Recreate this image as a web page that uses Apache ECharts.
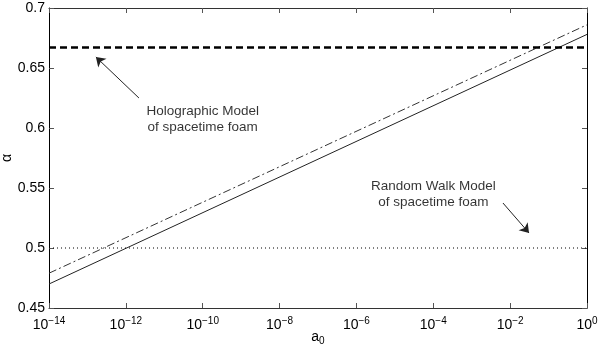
<!DOCTYPE html>
<html>
<head>
<meta charset="utf-8">
<script src="https://cdn.jsdelivr.net/npm/echarts@6/dist/echarts.min.js"></script>
<style>
  html, body { margin: 0; padding: 0; background: #fff; }
  #chart { width: 600px; height: 348px; }
</style>
</head>
<body>
<div id="chart"></div>
<script>
// a0 range and model curves
var xRange = [1e-14, 1];
var solidAlpha = [0.470, 0.678];
var dashDotAlpha = [0.479, 0.686];
var holographicAlpha = 0.667;
var randomWalkAlpha = 0.5;

// annotation texts, anchors [a0, alpha] and arrows [[tail], [head]]
var noteTexts = ['Holographic Model\nof spacetime foam', 'Random Walk Model\nof spacetime foam'];
var noteAnchors = [[1e-10, 0.6075], [1e-4, 0.545]];
var noteArrows = [
    [[2.19e-12, 0.625], [1.66e-13, 0.6592]],
    [[6.5e-3, 0.5375], [0.031, 0.5125]]
];

var yTicks = [0.45, 0.7, 0.05];

function pairUp(ys) {
    return [[xRange[0], ys[0]], [xRange[1], ys[1]]];
}

var chart = echarts.init(document.getElementById('chart'));
var font = 'Liberation Sans, Arial, Helvetica, sans-serif';

var tickStyle = { show: true, inside: true, length: 5, lineStyle: { color: '#555', width: 1 } };

var option = {
    animation: false,
    textStyle: { fontFamily: font },
    grid: { left: 49, right: 13, top: 8, bottom: 40, containLabel: false, outerBoundsMode: 'none' },
    xAxis: [{
        type: 'log',
        logBase: 10,
        min: xRange[0],
        max: xRange[1],
        splitNumber: 7,
        interval: 2,
        name: 'a{s|0}',
        nameLocation: 'middle',
        nameGap: 20,
        nameMoveOverlap: false,
        nameTextStyle: {
            color: '#000', fontSize: 14, fontFamily: font,
            rich: { s: { fontSize: 10, padding: [8, 0, 0, 0], fontFamily: font, color: '#000' } }
        },
        axisLine: { lineStyle: { color: '#333', width: 1 } },
        axisTick: tickStyle,
        minorTick: { show: false },
        splitLine: { show: false },
        axisLabel: {
            margin: 8,
            color: '#000',
            formatter: function (v) {
                var e = Math.round(Math.log10(v));
                return '{b|10}{s|' + (e < 0 ? '\u2212' + (-e) : e) + '}';
            },
            rich: {
                b: { fontSize: 14, fontFamily: font, color: '#000' },
                s: { fontSize: 10, fontFamily: font, color: '#000', padding: [0, 0, 9, 0] }
            }
        }
    }, {
        type: 'log',
        logBase: 10,
        min: xRange[0],
        max: xRange[1],
        splitNumber: 7,
        interval: 2,
        position: 'top',
        axisLine: { lineStyle: { color: '#333', width: 1 } },
        axisTick: tickStyle,
        minorTick: { show: false },
        axisLabel: { show: false },
        splitLine: { show: false }
    }],
    yAxis: [{
        type: 'value',
        min: yTicks[0],
        max: yTicks[1],
        interval: yTicks[2],
        name: '\u03b1',
        nameLocation: 'middle',
        nameGap: 35,
        nameMoveOverlap: false,
        nameTextStyle: { color: '#000', fontSize: 14, fontFamily: font },
        axisLine: { show: true, lineStyle: { color: '#000', width: 1 } },
        axisTick: tickStyle,
        splitLine: { show: false },
        axisLabel: {
            margin: 4,
            color: '#000',
            fontSize: 14,
            formatter: function (v) { return String(Math.round(v * 100) / 100); }
        }
    }, {
        type: 'value',
        min: yTicks[0],
        max: yTicks[1],
        interval: yTicks[2],
        position: 'right',
        axisLine: { show: true, lineStyle: { color: '#000', width: 1 } },
        axisTick: tickStyle,
        splitLine: { show: false },
        axisLabel: { show: false }
    }],
    series: [{
        type: 'line',
        data: pairUp(solidAlpha),
        symbol: 'none',
        lineStyle: { color: '#222', width: 1 }
    }, {
        type: 'line',
        data: pairUp(dashDotAlpha),
        symbol: 'none',
        lineStyle: { color: '#333', width: 1, type: [8, 3, 2, 3] }
    }, {
        type: 'line',
        data: pairUp([holographicAlpha, holographicAlpha]),
        symbol: 'none',
        lineStyle: { color: '#000', width: 2.5, type: [7, 4] }
    }, {
        type: 'line',
        data: pairUp([randomWalkAlpha, randomWalkAlpha]),
        symbol: 'none',
        lineStyle: { color: '#000', width: 1, type: [1, 3] }
    }, {
        type: 'lines',
        coordinateSystem: 'cartesian2d',
        symbol: ['none', 'arrow'],
        symbolSize: 9,
        lineStyle: { color: '#222', width: 1, opacity: 1 },
        data: noteArrows.map(function (a) { return { coords: a }; })
    }, {
        type: 'scatter',
        symbolSize: 0,
        data: noteAnchors.map(function (p, i) { return { name: noteTexts[i], value: p }; }),
        label: {
            show: true,
            position: 'inside',
            formatter: function (p) { return p.name; },
            color: '#000',
            fontSize: 13.5,
            lineHeight: 16,
            align: 'center',
            fontFamily: font
        }
    }]
};

chart.setOption(option);
</script>
</body>
</html>
